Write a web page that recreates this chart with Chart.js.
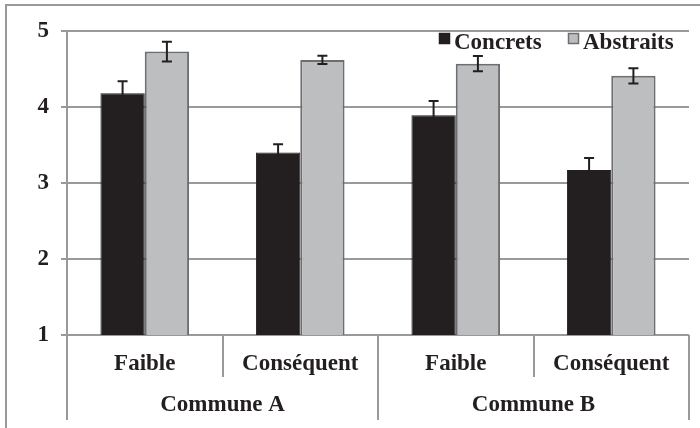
<!DOCTYPE html>
<html>
<head>
<meta charset="utf-8">
<script src="https://cdn.jsdelivr.net/npm/chart.js@4"></script>
<style>
  body { margin: 0; background: #fff; }
  #wrap { width: 700px; height: 428px; position: relative; }
</style>
</head>
<body>
<div id="wrap"><canvas id="chart"></canvas></div>
<script>
// data
const groups = ["Commune A", "Commune B"];
const levels = ["Faible", "Conséquent", "Faible", "Conséquent"];
const concrets = [4.18, 3.40, 3.89, 3.17];
const concretsErr = [0.16, 0.11, 0.19, 0.16];
const abstraits = [4.73, 4.62, 4.57, 4.41];
const abstraitsErr = [0.13, 0.055, 0.10, 0.10];
const yTicks = [1, 2, 3, 4, 5];

const FONT = "'Liberation Serif', 'Times New Roman', serif";
const INK = "#231f20";
const LINE = "#999";

// error bars on top of each bar
const errorBars = {
  id: "errorBars",
  afterDatasetsDraw(chart) {
    const ctx = chart.ctx;
    const y = chart.scales.y;
    chart.data.datasets.forEach((ds, i) => {
      const meta = chart.getDatasetMeta(i);
      meta.data.forEach((bar, j) => {
        const v = ds.data[j], e = ds.errors[j];
        const top = y.getPixelForValue(v + e);
        const bot = y.getPixelForValue(v - e);
        ctx.save();
        ctx.strokeStyle = INK;
        ctx.lineWidth = 2;
        ctx.beginPath();
        ctx.moveTo(bar.x, top); ctx.lineTo(bar.x, bot);
        ctx.moveTo(bar.x - 5, top); ctx.lineTo(bar.x + 5, top);
        ctx.moveTo(bar.x - 5, bot); ctx.lineTo(bar.x + 5, bot);
        ctx.stroke();
        ctx.restore();
      });
    });
  }
};

// frame, grouped axis, legend
const extras = {
  id: "extras",
  afterDraw(chart) {
    const ctx = chart.ctx;
    const x = chart.scales.x;
    const area = chart.chartArea;
    ctx.save();
    ctx.strokeStyle = LINE;
    ctx.lineWidth = 2;
    // outer frame
    ctx.beginPath();
    ctx.moveTo(6, 428); ctx.lineTo(6, 5); ctx.lineTo(700, 5);
    ctx.stroke();

    // category dividers
    const n = levels.length;
    const step = (area.right - area.left) / n;
    ctx.beginPath();
    for (let i = 0; i <= n; i++) {
      const px = Math.round(area.left + i * step);
      const long = i % 2 === 0;
      ctx.moveTo(px, area.bottom);
      ctx.lineTo(px, long ? 420 : 377);
    }
    ctx.stroke();

    // group labels
    ctx.fillStyle = INK;
    ctx.font = "bold 23px " + FONT;
    ctx.textAlign = "center";
    ctx.textBaseline = "middle";
    groups.forEach((g, i) => {
      const cx = area.left + (i * 2 + 1) * step;
      ctx.fillText(g, cx, 405);
    });

    // legend
    ctx.textAlign = "left";
    ctx.textBaseline = "alphabetic";
    const items = [
      { box: 439, text: 454, ds: chart.data.datasets[0] },
      { box: 568, text: 583, ds: chart.data.datasets[1] }
    ];
    items.forEach(it => {
      ctx.fillStyle = it.ds.backgroundColor;
      ctx.fillRect(it.box, 33, 10, 10);
      ctx.strokeStyle = it.ds.borderColor;
      ctx.lineWidth = 1.5;
      ctx.strokeRect(it.box + 0.5, 33.5, 10, 10);
      ctx.fillStyle = INK;
      ctx.fillText(it.ds.label, it.text, 49);
    });
    ctx.restore();
  }
};

new Chart(document.getElementById("chart"), {
  type: "bar",
  data: {
    labels: levels,
    datasets: [
      {
        label: "Concrets",
        data: concrets,
        errors: concretsErr,
        backgroundColor: INK,
        borderColor: INK,
        borderWidth: 1
      },
      {
        label: "Abstraits",
        data: abstraits,
        errors: abstraitsErr,
        backgroundColor: "#bcbec0",
        borderColor: "#6d6e71",
        borderWidth: 2
      }
    ]
  },
  options: {
    responsive: true,
    maintainAspectRatio: false,
    animation: false,
    layout: { padding: { top: 31, right: 11, left: 0, bottom: 0 } },
    datasets: { bar: { categoryPercentage: 0.57, barPercentage: 1.0 } },
    plugins: { legend: { display: false }, tooltip: { enabled: false } },
    scales: {
      x: {
        grid: { display: false, drawTicks: false },
        border: { display: false },
        ticks: {
          autoSkip: false, maxRotation: 0, padding: 15,
          color: INK, font: { family: FONT, size: 23, weight: "bold" }
        },
        afterFit(s) { s.height = 93; }
      },
      y: {
        min: 1, max: 5,
        afterBuildTicks(s) { s.ticks = yTicks.map(v => ({ value: v })); },
        grid: { color: LINE, lineWidth: 2, tickLength: 6 },
        border: { display: true, color: LINE, width: 2 },
        ticks: {
          padding: 12, color: INK,
          font: { family: FONT, size: 23, weight: "bold" }
        },
        afterFit(s) { s.width = 67; }
      }
    }
  },
  plugins: [errorBars, extras]
});
</script>
</body>
</html>
